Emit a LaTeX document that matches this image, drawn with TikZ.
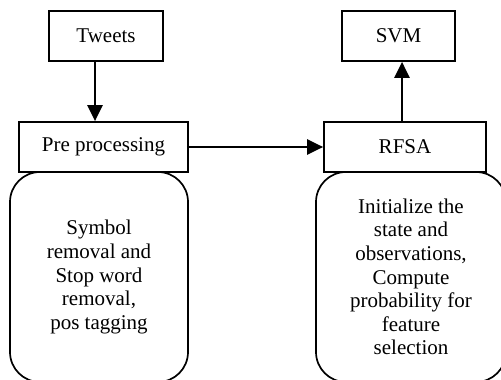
\documentclass[tikz,border=0pt]{standalone}
\usepackage{fontspec}
\setmainfont{Liberation Serif}
\usetikzlibrary{arrows.meta}
\tikzset{>={Triangle[length=8pt,width=7.5pt]},every node/.style={font=\fontsize{10.5}{11.8}\selectfont},
  stage/.style={draw,line width=0.85pt,inner sep=0pt,minimum height=25pt},
  detail/.style={draw,line width=0.85pt,rounded corners=15pt,align=center,inner sep=0pt,minimum height=105pt},
  flow/.style={line width=1.3pt,->}}

\begin{document}
\begin{tikzpicture}[x=0.5pt,y=-0.5pt]
\useasboundingbox (0,0) rectangle (501,379);\clip (0,0) rectangle (501,379);
\node[stage,minimum width=57pt] (tweets) at (106,36){Tweets};
\node[stage,minimum width=84.5pt] (pre) at (103.5,147){Pre processing};
\node[stage,minimum width=81pt] (rfsa) at (405,147){RFSA};
\node[stage,minimum width=56.5pt] (svm) at (398.5,36){SVM};
% details under each stage
\node[detail,minimum width=89pt] (clean) at (99,277){Symbol\\removal and\\Stop word\\removal,\\pos tagging};
\node[detail,minimum width=95pt] (select) at (411,277){Initialize the\\state and\\observations,\\Compute\\probability for\\feature\\selection};
\draw[flow] ([xshift=-5.5pt]tweets.south) -- ([xshift=-5.5pt]tweets.south |- pre.north);
\draw[flow] ([xshift=-1pt]pre.east) -- (rfsa.west);
\draw[flow] ([xshift=-1.5pt]rfsa.north) -- ([xshift=-1.5pt]rfsa.north |- svm.south);
\end{tikzpicture}
\end{document}
